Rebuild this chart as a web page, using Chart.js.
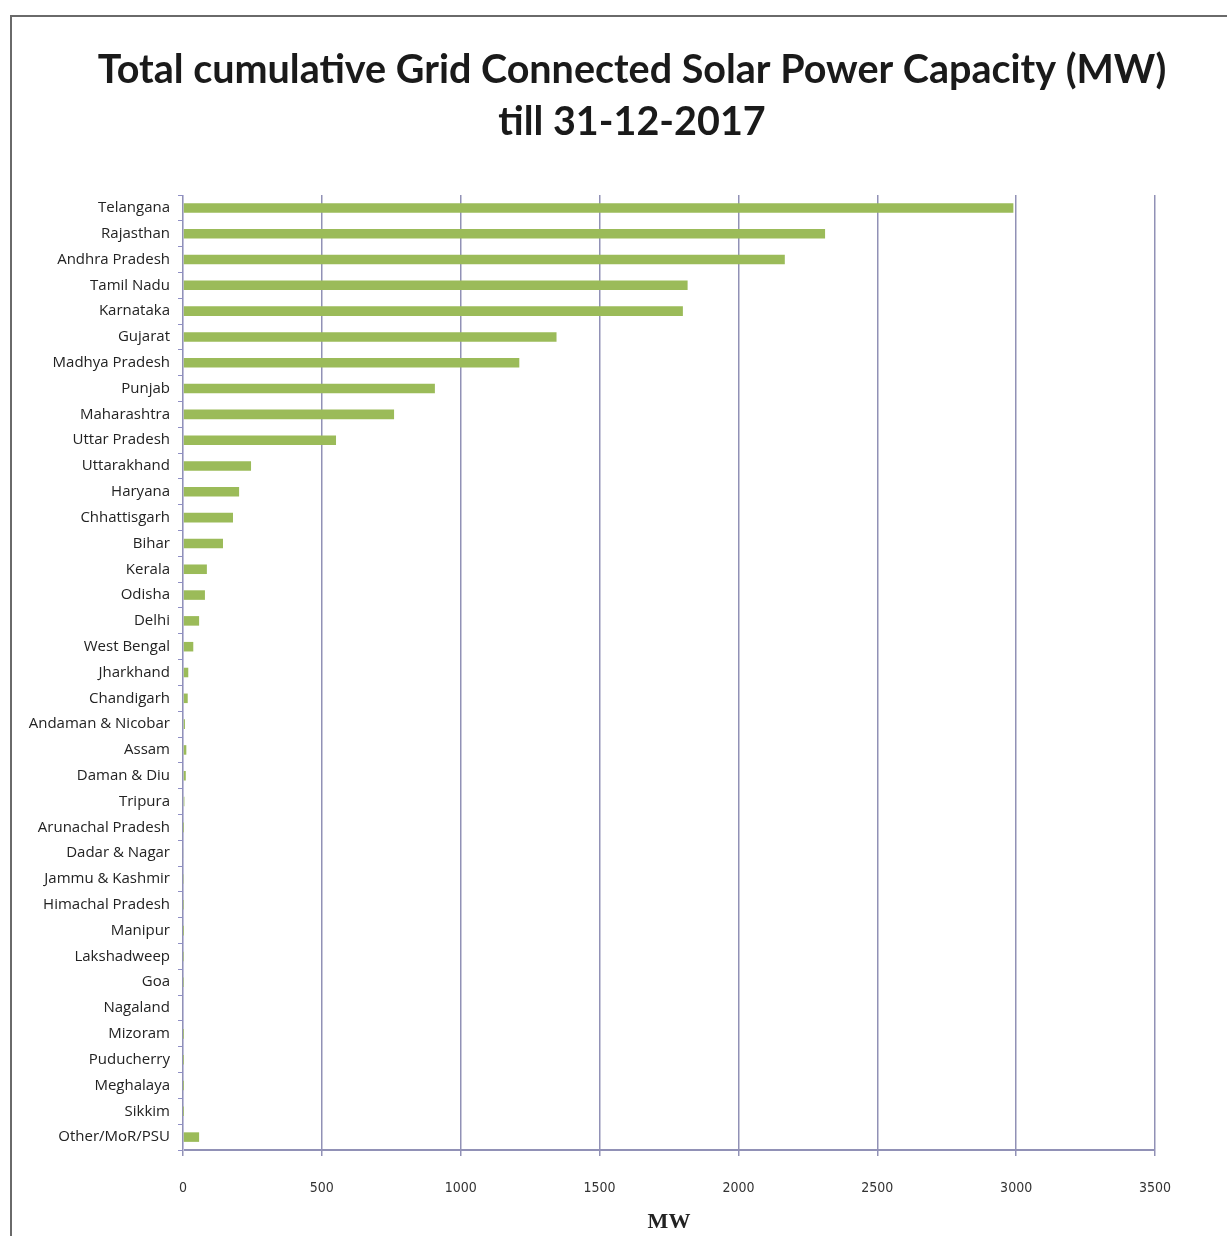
<!DOCTYPE html>
<html>
<head>
<meta charset="utf-8">
<script src="https://cdn.jsdelivr.net/npm/chart.js@4.4.1/dist/chart.umd.min.js"></script>
<style>
  html, body { margin: 0; padding: 0; background: #fff; }
  #wrap { position: relative; width: 1227px; height: 1236px; }
  #frame {
    position: absolute; left: 10px; top: 15px; right: 0; bottom: 0;
    border-top: 2px solid #6a6a6a; border-left: 2px solid #6a6a6a;
  }
  canvas { position: absolute; left: 0; top: 0; }
</style>
</head>
<body>
<div id="wrap">
  <div id="frame"></div>
  <canvas id="chart" width="1227" height="1236"></canvas>
</div>
<script>
const TITLE_LINES = ['Total cumulative Grid Connected Solar Power Capacity (MW)', 'till 31-12-2017'];

const STATES = [
  'Telangana', 'Rajasthan', 'Andhra Pradesh', 'Tamil Nadu', 'Karnataka', 'Gujarat',
  'Madhya Pradesh', 'Punjab', 'Maharashtra', 'Uttar Pradesh', 'Uttarakhand', 'Haryana',
  'Chhattisgarh', 'Bihar', 'Kerala', 'Odisha', 'Delhi', 'West Bengal', 'Jharkhand',
  'Chandigarh', 'Andaman & Nicobar', 'Assam', 'Daman & Diu', 'Tripura', 'Arunachal Pradesh',
  'Dadar & Nagar', 'Jammu & Kashmir', 'Himachal Pradesh', 'Manipur', 'Lakshadweep', 'Goa',
  'Nagaland', 'Mizoram', 'Puducherry', 'Meghalaya', 'Sikkim', 'Other/MoR/PSU'
];

// MW
const CAPACITY_MW = [
  2990, 2312, 2167, 1817, 1800, 1345,
  1211, 907, 760, 551, 245, 202,
  180, 144, 86, 79, 58, 37, 19,
  17, 7, 12, 10, 5, 0.3,
  3, 1.4, 0.7, 0.03, 0.8, 0.7,
  0, 0.1, 0.1, 0.01, 0.01, 58
];

const X_TICKS = [0, 500, 1000, 1500, 2000, 2500, 3000, 3500];

// the title sits a bit right of the canvas centre, so draw it by hand
const titlePlugin = {
  id: 'pageTitle',
  afterDraw(chart) {
    const ctx = chart.ctx;
    ctx.save();
    ctx.fillStyle = '#1a1a1a';
    ctx.font = 'bold 39.5px Lato';
    ctx.textAlign = 'center';
    ctx.textBaseline = 'middle';
    TITLE_LINES.forEach((line, i) => {
      ctx.fillText(line, 632, 70 + i * 52);
    });
    ctx.restore();
  },
};

const canvas = document.getElementById('chart');

new Chart(canvas, {
  type: 'bar',
  data: {
    labels: STATES,
    datasets: [{
      data: CAPACITY_MW,
      backgroundColor: '#9bbb59',
      borderWidth: 0,
      barPercentage: 0.37,
      categoryPercentage: 1,
    }],
  },
  plugins: [titlePlugin],
  options: {
    indexAxis: 'y',
    responsive: false,
    animation: false,
    layout: {
      padding: { left: 10, right: 72, top: 195, bottom: 0 },
    },
    plugins: {
      legend: { display: false },
      tooltip: { enabled: false },
    },
    scales: {
      x: {
        min: 0,
        max: 3500,
        afterBuildTicks: (scale) => {
          scale.ticks = X_TICKS.map((v) => ({ value: v }));
        },
        afterFit: (scale) => {
          scale.height = 86;
        },
        grid: {
          color: '#9191b6',
          lineWidth: 1.5,
          tickLength: 6,
        },
        border: { display: true, color: '#9191b6', width: 2 },
        ticks: {
          color: '#333',
          padding: 24,
          callback: (v) => String(v),
          font: { family: 'DejaVu Sans Condensed', size: 14 },
        },
        title: {
          display: true,
          text: 'MW',
          color: '#222',
          font: { family: 'Liberation Serif', size: 22, weight: 'bold' },
          padding: { top: 0, bottom: 0 },
        },
      },
      y: {
        offset: true,
        afterFit: (scale) => {
          scale.width = 173;
        },
        grid: {
          offset: true,
          drawOnChartArea: false,
          color: '#8f8fc4',
          tickLength: 5,
        },
        border: { display: true, color: '#c0c0dc', width: 1 },
        ticks: {
          color: '#222',
          padding: 8,
          autoSkip: false,
          font: { family: 'Open Sans', size: 15 },
        },
      },
    },
  },
});
</script>
</body>
</html>
